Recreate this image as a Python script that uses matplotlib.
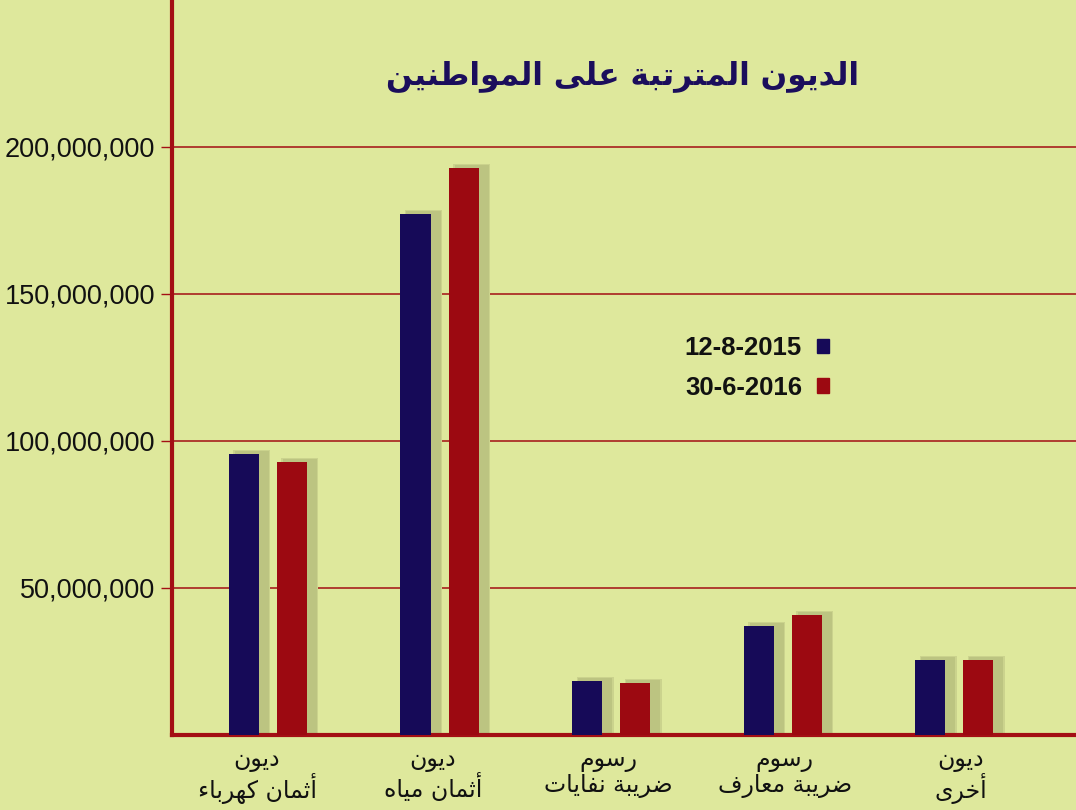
import matplotlib
matplotlib.use("Agg")
from matplotlib import pyplot as plt
from matplotlib.patches import Patch
import numpy as np

# data
categories = ["ديون\nأثمان كهرباء", "ديون\nأثمان مياه", "رسوم\nضريبة نفايات",
              "رسوم\nضريبة معارف", "ديون\nأخرى"]
debts_2015 = [95.6e6, 177.2e6, 18.4e6, 37.1e6, 25.5e6]
debts_2016 = [92.9e6, 192.9e6, 17.7e6, 40.8e6, 25.5e6]
series_labels = ["12-8-2015", "30-6-2016"]
title = "الديون المترتبة على المواطنين"
yticks = [50e6, 100e6, 150e6, 200e6]

# matplotlib does no arabic shaping, so pick the presentation forms by hand
# letter -> (first presentation form code, number of forms)
FORMS = {
    "ء": (0xFE80, 1), "آ": (0xFE81, 2), "أ": (0xFE83, 2), "ؤ": (0xFE85, 2),
    "إ": (0xFE87, 2), "ئ": (0xFE89, 4), "ا": (0xFE8D, 2), "ب": (0xFE8F, 4),
    "ة": (0xFE93, 2), "ت": (0xFE95, 4), "ث": (0xFE99, 4), "ج": (0xFE9D, 4),
    "ح": (0xFEA1, 4), "خ": (0xFEA5, 4), "د": (0xFEA9, 2), "ذ": (0xFEAB, 2),
    "ر": (0xFEAD, 2), "ز": (0xFEAF, 2), "س": (0xFEB1, 4), "ش": (0xFEB5, 4),
    "ص": (0xFEB9, 4), "ض": (0xFEBD, 4), "ط": (0xFEC1, 4), "ظ": (0xFEC5, 4),
    "ع": (0xFEC9, 4), "غ": (0xFECD, 4), "ف": (0xFED1, 4), "ق": (0xFED5, 4),
    "ك": (0xFED9, 4), "ل": (0xFEDD, 4), "م": (0xFEE1, 4), "ن": (0xFEE5, 4),
    "ه": (0xFEE9, 4), "و": (0xFEED, 2), "ى": (0xFEEF, 2), "ي": (0xFEF1, 4),
}
LAM_ALEF = {"آ": 0xFEF5, "أ": 0xFEF7, "إ": 0xFEF9, "ا": 0xFEFB}


def shape_line(s):
    out = []
    i = 0
    n = len(s)
    while i < n:
        ch = s[i]
        if ch not in FORMS:
            out.append(ch)
            i += 1
            continue
        prev_joins = i > 0 and s[i - 1] in FORMS and FORMS[s[i - 1]][1] == 4
        if ch == "ل" and i + 1 < n and s[i + 1] in LAM_ALEF:
            out.append(chr(LAM_ALEF[s[i + 1]] + (1 if prev_joins else 0)))
            i += 2
            continue
        base, nf = FORMS[ch]
        next_joins = nf == 4 and i + 1 < n and s[i + 1] in FORMS and FORMS[s[i + 1]][1] > 1
        if nf == 1:
            code = base
        elif prev_joins and next_joins:
            code = base + 3
        elif prev_joins:
            code = base + 1
        elif next_joins:
            code = base + 2
        else:
            code = base
        out.append(chr(code))
        i += 1
    return "".join(out)[::-1]


def ar(text):
    return "\n".join(shape_line(line) for line in text.split("\n"))


bg = "#dee89c"
navy = "#160a58"
red = "#9c0911"
rule = "#a30f14"
shadow = "#bcc481"

fig = plt.figure(figsize=(10.76, 8.1), dpi=100, facecolor=bg)
ax = fig.add_axes([172 / 1076, 75 / 810, 1 - 172 / 1076, 733 / 810])
ax.set_facecolor(bg)

x = np.arange(len(categories))
w = 0.175
off = 0.14
px = 1 / 171.5          # one pixel in x data units
py = 50e6 / 147         # one pixel in y data units

for vals, sign in ((debts_2015, -1), (debts_2016, 1)):
    xs = x + sign * off
    # soft shadow behind each bar
    ax.bar(xs + 8 * px, np.array(vals) + 8 * py, width=w + 7 * px, bottom=-4 * py,
           color="#cbd38d", zorder=1, linewidth=0)
    ax.bar(xs + 8 * px, np.array(vals) + 6 * py, width=w + 4 * px, bottom=-3 * py,
           color=shadow, zorder=1, linewidth=0)

b1 = ax.bar(x - off, debts_2015, width=w, color=navy, zorder=3, linewidth=0)
b2 = ax.bar(x + off, debts_2016, width=w, color=red, zorder=3, linewidth=0)

ax.set_xlim(-0.559, 4.709)
ax.set_ylim(0, 249.3e6)
ax.set_yticks(yticks)
ax.set_yticklabels([f"{int(v):,}" for v in yticks], fontsize=19.5,
                   family="Liberation Sans", color="#111111")
ax.tick_params(axis="y", length=8, width=1, color=rule, pad=4)
ax.set_xticks([])
for v in yticks:
    ax.axhline(v, color=rule, lw=1.1, zorder=0)

for side in ("top", "right"):
    ax.spines[side].set_visible(False)
ax.spines["left"].set_color(rule)
ax.spines["left"].set_linewidth(3)
ax.spines["bottom"].set_color(rule)
ax.spines["bottom"].set_linewidth(3)

for i, cat in enumerate(categories):
    ax.text(-0.064 + i * 1.025, -13 * py, ar(cat), ha="center", va="top",
            fontsize=17, family="DejaVu Sans", color="#111111",
            linespacing=1.05)

fig.text(622 / 1076, 1 - 76 / 810, ar(title), ha="center", va="center",
         fontsize=22.5, fontweight="bold", family="DejaVu Sans", color="#1b0e5c")

handles = [Patch(color=navy), Patch(color=red)]
fig.legend(handles, series_labels, loc="center", bbox_to_anchor=(757 / 1076, 1 - 368 / 810),
           markerfirst=False, frameon=False, borderpad=0, handlelength=0.47,
           handleheight=0.47, handletextpad=0.6, labelspacing=0.6,
           prop={"family": "Liberation Sans", "weight": "bold", "size": 18.5},
           labelcolor="#111111")

fig.savefig("out.png", dpi=100, facecolor=bg)
